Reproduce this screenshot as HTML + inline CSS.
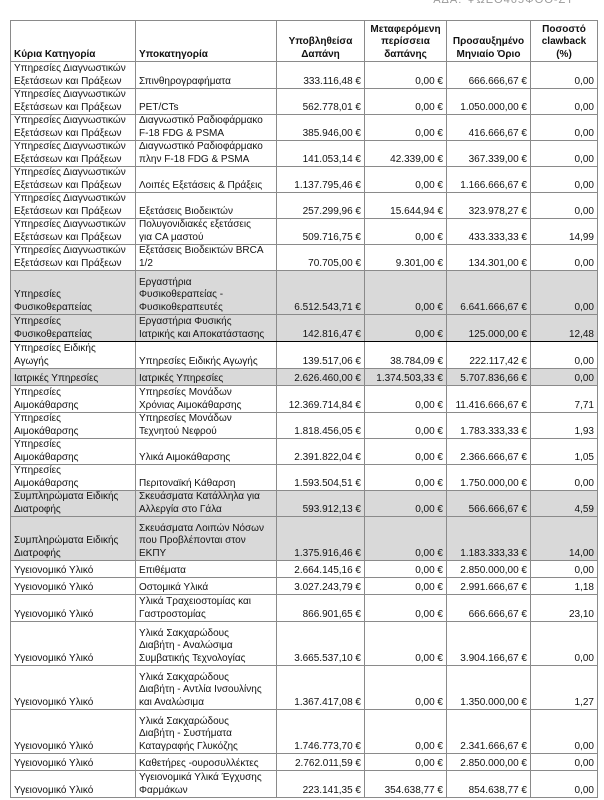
<!DOCTYPE html>
<html><head><meta charset="utf-8"><style>
body{margin:0;width:604px;height:800px;background:#fff;overflow:hidden;font-family:"Liberation Sans","DejaVu Sans",sans-serif;font-size:10px;color:#111;position:relative}
table{position:absolute;left:10px;top:20px;border-collapse:collapse;table-layout:fixed;width:587px}
td,th{border:1px solid #8a8a8a;padding:0 3px 0 3px;vertical-align:bottom;line-height:12.5px;overflow:hidden;white-space:nowrap}
th{font-weight:bold;text-align:center;height:40px}
th.l{text-align:left}
td.r{text-align:right}
tr.g td{background:#d9d9d9}
tr.tb td{border-bottom:1.5px solid #000}
.top{position:absolute;right:30px;top:-6px;color:#999;font-size:11px;letter-spacing:1px}
</style></head><body>
<div class="top">ΑΔΑ: ΨΩΕΘ465ΦΘΘ-ΖΤ</div>
<table>
<colgroup><col style="width:125px"><col style="width:141px"><col style="width:88px"><col style="width:82px"><col style="width:84px"><col style="width:67px"></colgroup>
<tr><th class="l">Κύρια Κατηγορία</th><th class="l">Υποκατηγορία</th><th>Υποβληθείσα<br>Δαπάνη</th><th>Μεταφερόμενη<br>περίσσεια<br>δαπάνης</th><th>Προσαυξημένο<br>Μηνιαίο Όριο</th><th>Ποσοστό<br>clawback<br>(%)</th></tr>
<tr style="height:27px"><td>Υπηρεσίες Διαγνωστικών<br>Εξετάσεων και Πράξεων</td><td>Σπινθηρογραφήματα</td><td class="r">333.116,48 €</td><td class="r">0,00 €</td><td class="r">666.666,67 €</td><td class="r">0,00</td></tr>
<tr style="height:26px"><td>Υπηρεσίες Διαγνωστικών<br>Εξετάσεων και Πράξεων</td><td>PET/CTs</td><td class="r">562.778,01 €</td><td class="r">0,00 €</td><td class="r">1.050.000,00 €</td><td class="r">0,00</td></tr>
<tr style="height:26px"><td>Υπηρεσίες Διαγνωστικών<br>Εξετάσεων και Πράξεων</td><td>Διαγνωστικό Ραδιοφάρμακο<br>F-18 FDG &amp; PSMA</td><td class="r">385.946,00 €</td><td class="r">0,00 €</td><td class="r">416.666,67 €</td><td class="r">0,00</td></tr>
<tr style="height:26px"><td>Υπηρεσίες Διαγνωστικών<br>Εξετάσεων και Πράξεων</td><td>Διαγνωστικό Ραδιοφάρμακο<br>πλην F-18 FDG &amp; PSMA</td><td class="r">141.053,14 €</td><td class="r">42.339,00 €</td><td class="r">367.339,00 €</td><td class="r">0,00</td></tr>
<tr style="height:26px"><td>Υπηρεσίες Διαγνωστικών<br>Εξετάσεων και Πράξεων</td><td>Λοιπές Εξετάσεις &amp; Πράξεις</td><td class="r">1.137.795,46 €</td><td class="r">0,00 €</td><td class="r">1.166.666,67 €</td><td class="r">0,00</td></tr>
<tr style="height:26px"><td>Υπηρεσίες Διαγνωστικών<br>Εξετάσεων και Πράξεων</td><td>Εξετάσεις Βιοδεικτών</td><td class="r">257.299,96 €</td><td class="r">15.644,94 €</td><td class="r">323.978,27 €</td><td class="r">0,00</td></tr>
<tr style="height:26px"><td>Υπηρεσίες Διαγνωστικών<br>Εξετάσεων και Πράξεων</td><td>Πολυγονιδιακές εξετάσεις<br>για CA μαστού</td><td class="r">509.716,75 €</td><td class="r">0,00 €</td><td class="r">433.333,33 €</td><td class="r">14,99</td></tr>
<tr style="height:26px"><td>Υπηρεσίες Διαγνωστικών<br>Εξετάσεων και Πράξεων</td><td>Εξετάσεις Βιοδεικτών BRCA<br>1/2</td><td class="r">70.705,00 €</td><td class="r">9.301,00 €</td><td class="r">134.301,00 €</td><td class="r">0,00</td></tr>
<tr class="g" style="height:44px"><td>Υπηρεσίες<br>Φυσικοθεραπείας</td><td>Εργαστήρια<br>Φυσικοθεραπείας -<br>Φυσικοθεραπευτές</td><td class="r">6.512.543,71 €</td><td class="r">0,00 €</td><td class="r">6.641.666,67 €</td><td class="r">0,00</td></tr>
<tr class="g tb" style="height:27px"><td>Υπηρεσίες<br>Φυσικοθεραπείας</td><td>Εργαστήρια Φυσικής<br>Ιατρικής και Αποκατάστασης</td><td class="r">142.816,47 €</td><td class="r">0,00 €</td><td class="r">125.000,00 €</td><td class="r">12,48</td></tr>
<tr style="height:27px"><td>Υπηρεσίες Ειδικής<br>Αγωγής</td><td>Υπηρεσίες Ειδικής Αγωγής</td><td class="r">139.517,06 €</td><td class="r">38.784,09 €</td><td class="r">222.117,42 €</td><td class="r">0,00</td></tr>
<tr class="g" style="height:17px"><td>Ιατρικές Υπηρεσίες</td><td>Ιατρικές Υπηρεσίες</td><td class="r">2.626.460,00 €</td><td class="r">1.374.503,33 €</td><td class="r">5.707.836,66 €</td><td class="r">0,00</td></tr>
<tr style="height:27px"><td>Υπηρεσίες<br>Αιμοκάθαρσης</td><td>Υπηρεσίες Μονάδων<br>Χρόνιας Αιμοκάθαρσης</td><td class="r">12.369.714,84 €</td><td class="r">0,00 €</td><td class="r">11.416.666,67 €</td><td class="r">7,71</td></tr>
<tr style="height:26px"><td>Υπηρεσίες<br>Αιμοκάθαρσης</td><td>Υπηρεσίες Μονάδων<br>Τεχνητού Νεφρού</td><td class="r">1.818.456,05 €</td><td class="r">0,00 €</td><td class="r">1.783.333,33 €</td><td class="r">1,93</td></tr>
<tr style="height:26px"><td>Υπηρεσίες<br>Αιμοκάθαρσης</td><td>Υλικά Αιμοκάθαρσης</td><td class="r">2.391.822,04 €</td><td class="r">0,00 €</td><td class="r">2.366.666,67 €</td><td class="r">1,05</td></tr>
<tr style="height:26px"><td>Υπηρεσίες<br>Αιμοκάθαρσης</td><td>Περιτοναϊκή Κάθαρση</td><td class="r">1.593.504,51 €</td><td class="r">0,00 €</td><td class="r">1.750.000,00 €</td><td class="r">0,00</td></tr>
<tr class="g" style="height:26px"><td>Συμπληρώματα Ειδικής<br>Διατροφής</td><td>Σκευάσματα Κατάλληλα για<br>Αλλεργία στο Γάλα</td><td class="r">593.912,13 €</td><td class="r">0,00 €</td><td class="r">566.666,67 €</td><td class="r">4,59</td></tr>
<tr class="g" style="height:44px"><td>Συμπληρώματα Ειδικής<br>Διατροφής</td><td>Σκευάσματα Λοιπών Νόσων<br>που Προβλέπονται στον<br>ΕΚΠΥ</td><td class="r">1.375.916,46 €</td><td class="r">0,00 €</td><td class="r">1.183.333,33 €</td><td class="r">14,00</td></tr>
<tr style="height:17px"><td>Υγειονομικό Υλικό</td><td>Επιθέματα</td><td class="r">2.664.145,16 €</td><td class="r">0,00 €</td><td class="r">2.850.000,00 €</td><td class="r">0,00</td></tr>
<tr style="height:17px"><td>Υγειονομικό Υλικό</td><td>Οστομικά Υλικά</td><td class="r">3.027.243,79 €</td><td class="r">0,00 €</td><td class="r">2.991.666,67 €</td><td class="r">1,18</td></tr>
<tr style="height:27px"><td>Υγειονομικό Υλικό</td><td>Υλικά Τραχειοστομίας και<br>Γαστροστομίας</td><td class="r">866.901,65 €</td><td class="r">0,00 €</td><td class="r">666.666,67 €</td><td class="r">23,10</td></tr>
<tr style="height:44px"><td>Υγειονομικό Υλικό</td><td>Υλικά Σακχαρώδους<br>Διαβήτη - Αναλώσιμα<br>Συμβατικής Τεχνολογίας</td><td class="r">3.665.537,10 €</td><td class="r">0,00 €</td><td class="r">3.904.166,67 €</td><td class="r">0,00</td></tr>
<tr style="height:44px"><td>Υγειονομικό Υλικό</td><td>Υλικά Σακχαρώδους<br>Διαβήτη - Αντλία Ινσουλίνης<br>και Αναλώσιμα</td><td class="r">1.367.417,08 €</td><td class="r">0,00 €</td><td class="r">1.350.000,00 €</td><td class="r">1,27</td></tr>
<tr style="height:44px"><td>Υγειονομικό Υλικό</td><td>Υλικά Σακχαρώδους<br>Διαβήτη - Συστήματα<br>Καταγραφής Γλυκόζης</td><td class="r">1.746.773,70 €</td><td class="r">0,00 €</td><td class="r">2.341.666,67 €</td><td class="r">0,00</td></tr>
<tr style="height:17px"><td>Υγειονομικό Υλικό</td><td>Καθετήρες -ουροσυλλέκτες</td><td class="r">2.762.011,59 €</td><td class="r">0,00 €</td><td class="r">2.850.000,00 €</td><td class="r">0,00</td></tr>
<tr style="height:27px"><td>Υγειονομικό Υλικό</td><td>Υγειονομικά Υλικά Έγχυσης<br>Φαρμάκων</td><td class="r">223.141,35 €</td><td class="r">354.638,77 €</td><td class="r">854.638,77 €</td><td class="r">0,00</td></tr>
</table>
</body></html>
